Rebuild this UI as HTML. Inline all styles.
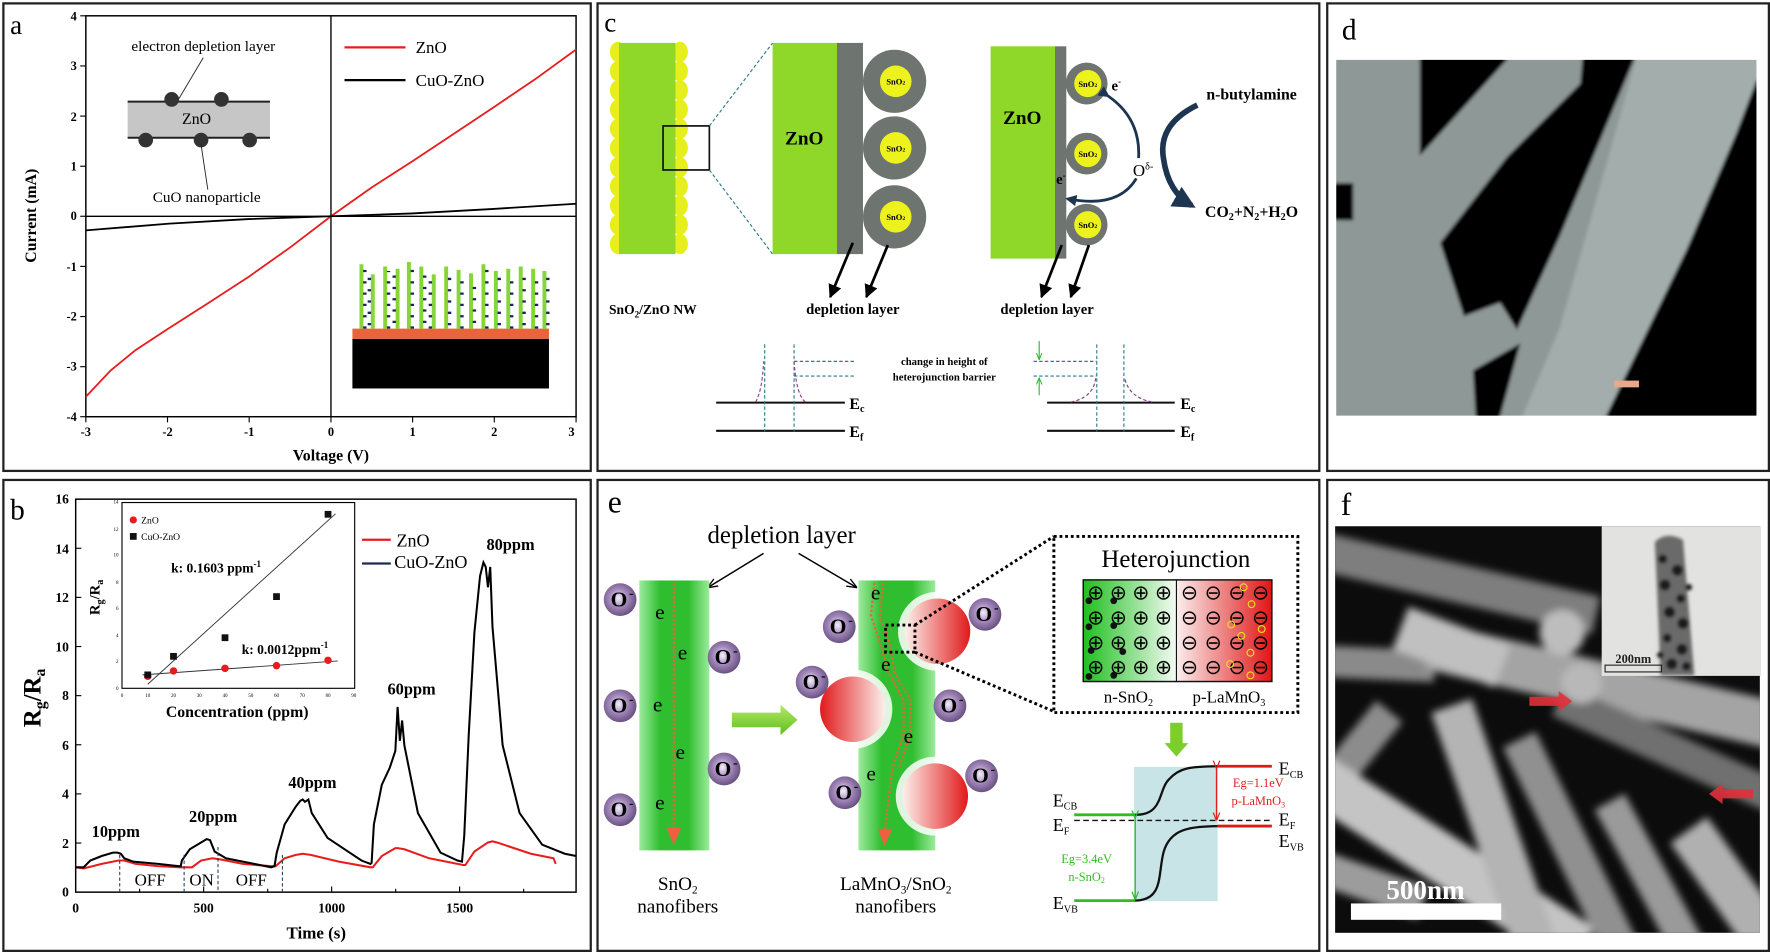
<!DOCTYPE html>
<html><head><meta charset="utf-8"><style>
html,body{margin:0;padding:0;background:#fff;width:1770px;height:952px;overflow:hidden}
svg{display:block}
text{font-family:"Liberation Serif",serif}
.b{font-weight:bold}
</style></head><body>
<svg width="1770" height="952" viewBox="0 0 1567 843" preserveAspectRatio="none" xmlns="http://www.w3.org/2000/svg">
<defs>
<linearGradient id="fib" x1="0" x2="1" y1="0" y2="0"><stop offset="0" stop-color="#9ceb9c"/><stop offset="0.3" stop-color="#2fbe2f"/><stop offset="0.7" stop-color="#2fbe2f"/><stop offset="1" stop-color="#9ceb9c"/></linearGradient>
<radialGradient id="ox" cx="0.45" cy="0.45" r="0.6"><stop offset="0" stop-color="#f4eef8"/><stop offset="0.45" stop-color="#a58bbd"/><stop offset="1" stop-color="#5f4878"/></radialGradient>
<linearGradient id="redR" x1="0" x2="1"><stop offset="0" stop-color="#fdf0ec"/><stop offset="1" stop-color="#e0191b"/></linearGradient>
<linearGradient id="redL" x1="0" x2="1"><stop offset="0" stop-color="#e0191b"/><stop offset="1" stop-color="#fdf0ec"/></linearGradient>
<linearGradient id="hetG" x1="0" x2="1"><stop offset="0" stop-color="#1fbf1f"/><stop offset="1" stop-color="#f4fbf4"/></linearGradient>
<linearGradient id="hetR" x1="0" x2="1"><stop offset="0" stop-color="#fbeeee"/><stop offset="1" stop-color="#e01515"/></linearGradient>
<linearGradient id="garr" x1="0" x2="0" y1="0" y2="1"><stop offset="0" stop-color="#b6e86a"/><stop offset="1" stop-color="#5cbf1a"/></linearGradient>
<filter id="bl" x="-10%" y="-10%" width="120%" height="120%"><feGaussianBlur stdDeviation="3.5"/></filter>
<filter id="bl2"><feGaussianBlur stdDeviation="1.5"/></filter>
<marker id="ah" viewBox="0 0 10 10" refX="9" refY="5" markerWidth="5" markerHeight="5" orient="auto"><path d="M0,0L10,5L0,10z" fill="#000"/></marker>
<marker id="ahs" viewBox="0 0 10 10" refX="9" refY="5" markerWidth="7" markerHeight="7" orient="auto"><path d="M0,1L10,5L0,9" fill="none" stroke="#000" stroke-width="1.3"/></marker>
<marker id="ahg" viewBox="0 0 10 10" refX="9" refY="5" markerWidth="6" markerHeight="6" orient="auto"><path d="M0,1L10,5L0,9" fill="none" stroke="#2db82d" stroke-width="1.5"/></marker>
<marker id="ahr" viewBox="0 0 10 10" refX="9" refY="5" markerWidth="6" markerHeight="6" orient="auto"><path d="M0,1L10,5L0,9" fill="none" stroke="#e02020" stroke-width="1.5"/></marker>
<marker id="ahb" viewBox="0 0 10 10" refX="8" refY="5" markerWidth="4" markerHeight="4" orient="auto"><path d="M0,0L10,5L0,10z" fill="#1e3550"/></marker>
<g id="oion"><circle r="14.5" fill="url(#ox)"/><text x="-1" y="6" font-size="19" font-weight="bold" text-anchor="middle">O</text><text x="8" y="-2" font-size="12" font-weight="bold">-</text></g>
</defs>

<g fill="none" stroke="#222" stroke-width="2">
<rect x="3" y="3" width="520" height="414"/>
<rect x="529" y="3" width="639" height="414"/>
<rect x="1175" y="3" width="391" height="414"/>
<rect x="3" y="425" width="520" height="417"/>
<rect x="529" y="425" width="639" height="417"/>
<rect x="1175" y="425" width="391" height="417"/>
</g>

<!-- ============ Panel a ============ -->
<text x="9" y="30" font-size="24">a</text>
<rect x="76" y="14" width="434" height="355" fill="none" stroke="#000" stroke-width="1.3"/>
<line x1="293" y1="14" x2="293" y2="369" stroke="#000" stroke-width="1.2"/>
<line x1="76" y1="191.5" x2="510" y2="191.5" stroke="#000" stroke-width="1.2"/>
<g stroke="#000" stroke-width="1">
<line x1="76" y1="14" x2="71" y2="14"/>
<line x1="76" y1="58.4" x2="71" y2="58.4"/><line x1="76" y1="102.8" x2="71" y2="102.8"/><line x1="76" y1="147.2" x2="71" y2="147.2"/><line x1="76" y1="191.5" x2="71" y2="191.5"/><line x1="76" y1="235.9" x2="71" y2="235.9"/><line x1="76" y1="280.3" x2="71" y2="280.3"/><line x1="76" y1="324.7" x2="71" y2="324.7"/><line x1="76" y1="369" x2="71" y2="369"/>
<line x1="76" y1="369" x2="76" y2="374"/><line x1="148.3" y1="369" x2="148.3" y2="374"/><line x1="220.6" y1="369" x2="220.6" y2="374"/><line x1="293" y1="369" x2="293" y2="374"/><line x1="365.3" y1="369" x2="365.3" y2="374"/><line x1="437.6" y1="369" x2="437.6" y2="374"/><line x1="510" y1="369" x2="510" y2="374"/>
</g>
<g font-size="11" font-weight="bold" text-anchor="end">
<text x="68" y="18">4</text><text x="68" y="62">3</text><text x="68" y="107">2</text><text x="68" y="151">1</text><text x="68" y="195">0</text><text x="68" y="240">-1</text><text x="68" y="284">-2</text><text x="68" y="328">-3</text><text x="68" y="373">-4</text>
</g>
<g font-size="11" font-weight="bold" text-anchor="middle">
<text x="76" y="386">-3</text><text x="148.3" y="386">-2</text><text x="220.6" y="386">-1</text><text x="293" y="386">0</text><text x="365.3" y="386">1</text><text x="437.6" y="386">2</text><text x="506" y="386">3</text>
</g>
<text x="293" y="408" font-size="14" font-weight="bold" text-anchor="middle">Voltage (V)</text>
<text transform="translate(32,191) rotate(-90)" font-size="14" font-weight="bold" text-anchor="middle">Current (mA)</text>
<polyline fill="none" stroke="#e81c1c" stroke-width="1.6" points="76,351.3 98,328 120,310 148.3,291.4 185,268 220.6,244.8 257,219 293,191.5 329,166 365.3,142.7 401,119 437.6,94.6 474,70 510,43.8"/>
<polyline fill="none" stroke="#000" stroke-width="1.6" points="76,204 150,198 220,194 293,191.5 365,189 437,185 510,180.4"/>
<line x1="305" y1="42" x2="359" y2="42" stroke="#e81c1c" stroke-width="2"/>
<text x="368" y="47" font-size="15" font-family="Liberation Sans,sans-serif">ZnO</text>
<line x1="305" y1="71" x2="359" y2="71" stroke="#000" stroke-width="2"/>
<text x="368" y="76" font-size="15" font-family="Liberation Sans,sans-serif">CuO-ZnO</text>
<rect x="113" y="90" width="126" height="32" fill="#c6c6c6"/>
<line x1="113" y1="90" x2="239" y2="90" stroke="#222" stroke-width="1.8"/>
<line x1="113" y1="122" x2="239" y2="122" stroke="#222" stroke-width="1.8"/>
<g fill="#333"><circle cx="152" cy="88" r="6.5"/><circle cx="196" cy="88" r="6.5"/><circle cx="129" cy="124" r="6.5"/><circle cx="178" cy="124" r="6.5"/><circle cx="221" cy="124" r="6.5"/></g>
<text x="174" y="110" font-size="14" text-anchor="middle">ZnO</text>
<text x="180" y="45" font-size="13.5" text-anchor="middle">electron depletion layer</text>
<line x1="180" y1="51" x2="158" y2="88" stroke="#222" stroke-width="0.8"/>
<text x="183" y="179" font-size="13.5" text-anchor="middle">CuO nanoparticle</text>
<line x1="178" y1="128" x2="184" y2="168" stroke="#222" stroke-width="0.8"/>
<rect x="312" y="300" width="174" height="44" fill="#000"/>
<rect x="312" y="291" width="174" height="9" fill="#e8643a"/>
<g stroke="#86d63a" stroke-width="3.5">
<line x1="320" y1="291" x2="320" y2="234"/><line x1="330" y1="291" x2="330" y2="243"/><line x1="341" y1="291" x2="341" y2="236"/><line x1="352" y1="291" x2="352" y2="238"/><line x1="362" y1="291" x2="362" y2="232"/><line x1="373" y1="291" x2="373" y2="236"/><line x1="384" y1="291" x2="384" y2="243"/><line x1="395" y1="291" x2="395" y2="236"/><line x1="406" y1="291" x2="406" y2="239"/><line x1="417" y1="291" x2="417" y2="242"/><line x1="428" y1="291" x2="428" y2="234"/><line x1="439" y1="291" x2="439" y2="240"/><line x1="450" y1="291" x2="450" y2="238"/><line x1="461" y1="291" x2="461" y2="236"/><line x1="472" y1="291" x2="472" y2="238"/><line x1="482" y1="291" x2="482" y2="240"/>
</g>
<g stroke="#20206a" stroke-width="3" stroke-dasharray="2 8">
<line x1="323" y1="291" x2="323" y2="236"/><line x1="327" y1="288" x2="327" y2="246"/><line x1="344" y1="291" x2="344" y2="240"/><line x1="349" y1="286" x2="349" y2="242"/><line x1="365" y1="291" x2="365" y2="236"/><line x1="376" y1="286" x2="376" y2="240"/><line x1="381" y1="291" x2="381" y2="246"/><line x1="398" y1="288" x2="398" y2="240"/><line x1="409" y1="291" x2="409" y2="242"/><line x1="420" y1="286" x2="420" y2="246"/><line x1="431" y1="291" x2="431" y2="238"/><line x1="442" y1="288" x2="442" y2="244"/><line x1="453" y1="291" x2="453" y2="242"/><line x1="464" y1="288" x2="464" y2="240"/><line x1="475" y1="291" x2="475" y2="242"/><line x1="485" y1="288" x2="485" y2="244"/>
</g>

<!-- ============ Panel b ============ -->
<text x="9" y="460" font-size="26">b</text>
<rect x="67" y="442" width="443" height="348" fill="none" stroke="#000" stroke-width="1.3"/>
<g stroke="#000" stroke-width="1">
<line x1="67" y1="442" x2="72" y2="442"/><line x1="67" y1="485.5" x2="72" y2="485.5"/><line x1="67" y1="529" x2="72" y2="529"/><line x1="67" y1="572.5" x2="72" y2="572.5"/><line x1="67" y1="616" x2="72" y2="616"/><line x1="67" y1="659.5" x2="72" y2="659.5"/><line x1="67" y1="703" x2="72" y2="703"/><line x1="67" y1="746.5" x2="72" y2="746.5"/>
<line x1="180.3" y1="790" x2="180.3" y2="785"/><line x1="293.6" y1="790" x2="293.6" y2="785"/><line x1="406.9" y1="790" x2="406.9" y2="785"/><line x1="123.6" y1="790" x2="123.6" y2="787"/><line x1="237" y1="790" x2="237" y2="787"/><line x1="350.3" y1="790" x2="350.3" y2="787"/><line x1="463.6" y1="790" x2="463.6" y2="787"/>
</g>
<g font-size="12" font-weight="bold" text-anchor="end">
<text x="61" y="446">16</text><text x="61" y="490">14</text><text x="61" y="533">12</text><text x="61" y="577">10</text><text x="61" y="620">8</text><text x="61" y="664">6</text><text x="61" y="707">4</text><text x="61" y="751">2</text><text x="61" y="794">0</text>
</g>
<g font-size="12" font-weight="bold" text-anchor="middle">
<text x="67" y="808">0</text><text x="180.3" y="808">500</text><text x="293.6" y="808">1000</text><text x="406.9" y="808">1500</text>
</g>
<text x="280" y="831" font-size="15" font-weight="bold" text-anchor="middle">Time (s)</text>
<text transform="translate(36,618) rotate(-90)" font-size="22" font-weight="bold" text-anchor="middle">R<tspan font-size="14" dy="4">g</tspan><tspan dy="-4">/R</tspan><tspan font-size="14" dy="4">a</tspan></text>
<polyline fill="none" stroke="#e81c1c" stroke-width="1.8" points="67,768 74,769 90,765 105,762 110,762 120,765 140,767 160,768 170,768 178,762 188,760 195,761 215,765 240,767 244,767 252,760 262,757 268,756 275,757 300,763 328,768 330,768 338,758 350,751 352,751 358,752 380,760 410,766 412,766 420,754 432,746 436,745 440,746 470,756 490,760 492,765"/>
<polyline fill="none" stroke="#000" stroke-width="1.8" points="67,768 74,768 80,762 90,758 100,755 104,755 107,756 110,760 118,763 140,765 158,767 160,767 161,762 168,752 178,746 183,743 186,744 190,754 200,760 225,765 240,768 243,767 245,755 252,730 262,714 266,709 268,708 270,710 273,708 276,720 290,742 320,762 328,765 329,764 331,730 338,695 345,680 350,665 352,626 354,656 356,638 358,660 370,720 390,755 405,762 409,763 411,740 415,650 420,560 425,510 428,498 430,502 432,520 434,502 436,555 445,660 460,720 480,748 500,756 510,758"/>
<g stroke="#1e3550" stroke-width="0.9" stroke-dasharray="3 2">
<line x1="106" y1="757" x2="106" y2="790"/><line x1="163" y1="757" x2="163" y2="790"/><line x1="193" y1="750" x2="193" y2="790"/><line x1="250" y1="757" x2="250" y2="790"/>
</g>
<g font-size="15" text-anchor="middle">
<text x="133" y="784">OFF</text><text x="178.5" y="784">ON</text><text x="222.5" y="784">OFF</text>
</g>
<g font-size="14.5" font-weight="bold" text-anchor="middle">
<text x="102.5" y="741">10ppm</text><text x="188.7" y="728">20ppm</text><text x="276.6" y="698">40ppm</text><text x="364.4" y="615">60ppm</text><text x="452" y="487">80ppm</text>
</g>
<line x1="320.5" y1="478" x2="346" y2="478" stroke="#e81c1c" stroke-width="2"/>
<text x="351" y="484" font-size="16" font-family="Liberation Sans,sans-serif">ZnO</text>
<line x1="320.5" y1="499" x2="346" y2="499" stroke="#1e2a50" stroke-width="2"/>
<text x="349" y="503" font-size="16" font-family="Liberation Sans,sans-serif">CuO-ZnO</text>
<rect x="108" y="445" width="206" height="164.5" fill="#fff" stroke="#000" stroke-width="1"/>
<g font-size="4.5" text-anchor="middle">
<text x="108" y="617">0</text><text x="130.8" y="617">10</text><text x="153.6" y="617">20</text><text x="176.4" y="617">30</text><text x="199.2" y="617">40</text><text x="222" y="617">50</text><text x="244.8" y="617">60</text><text x="267.6" y="617">70</text><text x="290.4" y="617">80</text><text x="313.2" y="617">90</text>
</g>
<g font-size="4.5" text-anchor="end">
<text x="105" y="611">0</text><text x="105" y="587">2</text><text x="105" y="564">4</text><text x="105" y="540">6</text><text x="105" y="517">8</text><text x="105" y="493">10</text><text x="105" y="470">12</text><text x="105" y="446">14</text>
</g>
<text x="210" y="635" font-size="14" font-weight="bold" text-anchor="middle">Concentration (ppm)</text>
<text transform="translate(88,529) rotate(-90)" font-size="13" font-weight="bold" text-anchor="middle">R<tspan font-size="9" dy="3">g</tspan><tspan dy="-3">/R</tspan><tspan font-size="9" dy="3">a</tspan></text>
<line x1="130.8" y1="605.9" x2="297" y2="455" stroke="#333" stroke-width="0.8"/>
<line x1="126.2" y1="597.6" x2="299" y2="585.3" stroke="#333" stroke-width="0.8"/>
<g fill="#e81c1c"><circle cx="130.8" cy="598.8" r="3.3"/><circle cx="153.6" cy="594.1" r="3.3"/><circle cx="199.2" cy="591.8" r="3.3"/><circle cx="244.8" cy="589.4" r="3.3"/><circle cx="290.4" cy="584.7" r="3.3"/></g>
<g fill="#111"><rect x="127.8" y="594.6" width="6" height="6"/><rect x="150.6" y="578.2" width="6" height="6"/><rect x="196.2" y="561.7" width="6" height="6"/><rect x="241.8" y="525.3" width="6" height="6"/><rect x="287.4" y="452.4" width="6" height="6"/></g>
<circle cx="118" cy="460.4" r="3.2" fill="#e81c1c"/><text x="125" y="463.5" font-size="8.5" font-family="Liberation Sans,sans-serif">ZnO</text>
<rect x="115" y="472" width="6" height="6" fill="#111"/><text x="125" y="478" font-size="8.5" font-family="Liberation Sans,sans-serif">CuO-ZnO</text>
<text x="151.5" y="507" font-size="12" font-weight="bold">k: 0.1603 ppm<tspan font-size="8" dy="-5">-1</tspan></text>
<text x="214" y="579" font-size="12" font-weight="bold">k: 0.0012ppm<tspan font-size="8" dy="-5">-1</tspan></text>

<!-- ============ Panel c ============ -->
<text x="535" y="28" font-size="24">c</text>
<g fill="#e6ee1c">
<ellipse cx="547" cy="46" rx="7" ry="9"/><ellipse cx="547" cy="63" rx="7" ry="9"/><ellipse cx="547" cy="80" rx="7" ry="9"/><ellipse cx="547" cy="97" rx="7" ry="9"/><ellipse cx="547" cy="114" rx="7" ry="9"/><ellipse cx="547" cy="131" rx="7" ry="9"/><ellipse cx="547" cy="148" rx="7" ry="9"/><ellipse cx="547" cy="165" rx="7" ry="9"/><ellipse cx="547" cy="182" rx="7" ry="9"/><ellipse cx="547" cy="199" rx="7" ry="9"/><ellipse cx="547" cy="216" rx="7" ry="9"/>
<ellipse cx="602" cy="46" rx="7" ry="9"/><ellipse cx="602" cy="63" rx="7" ry="9"/><ellipse cx="602" cy="80" rx="7" ry="9"/><ellipse cx="602" cy="97" rx="7" ry="9"/><ellipse cx="602" cy="114" rx="7" ry="9"/><ellipse cx="602" cy="131" rx="7" ry="9"/><ellipse cx="602" cy="148" rx="7" ry="9"/><ellipse cx="602" cy="165" rx="7" ry="9"/><ellipse cx="602" cy="182" rx="7" ry="9"/><ellipse cx="602" cy="199" rx="7" ry="9"/><ellipse cx="602" cy="216" rx="7" ry="9"/>
</g>
<rect x="548" y="38" width="50" height="187" fill="#8fd82a"/>
<rect x="587" y="111.5" width="41" height="39" fill="none" stroke="#111" stroke-width="1.5"/>
<g stroke="#2a7a8a" stroke-width="1" stroke-dasharray="3 2"><line x1="628" y1="111.5" x2="684" y2="38"/><line x1="628" y1="150.5" x2="684" y2="225"/></g>
<text x="578" y="278" font-size="12" font-weight="bold" text-anchor="middle">SnO<tspan font-size="8" dy="3">2</tspan><tspan dy="-3">/ZnO NW</tspan></text>
<rect x="684" y="38" width="57" height="187" fill="#8fd82a"/>
<rect x="741" y="38" width="23" height="187" fill="#6e7470"/>
<g fill="#6e7470"><circle cx="792" cy="72" r="28"/><circle cx="792" cy="131" r="28"/><circle cx="792" cy="192" r="28"/></g>
<g fill="#eef21c"><circle cx="793" cy="72" r="14"/><circle cx="793" cy="131" r="14"/><circle cx="793" cy="192" r="14"/></g>
<g font-size="7.5" font-weight="bold" text-anchor="middle"><text x="793" y="75">SnO<tspan font-size="5">2</tspan></text><text x="793" y="134">SnO<tspan font-size="5">2</tspan></text><text x="793" y="195">SnO<tspan font-size="5">2</tspan></text></g>
<text x="712" y="128" font-size="17" font-weight="bold" text-anchor="middle">ZnO</text>
<rect x="877" y="41" width="57" height="188" fill="#8fd82a"/>
<rect x="934" y="41" width="10" height="188" fill="#6e7470"/>
<g fill="#6e7470"><circle cx="962" cy="74" r="18.5"/><circle cx="962" cy="136" r="18.5"/><circle cx="962" cy="199" r="18.5"/></g>
<g fill="#eef21c"><circle cx="963" cy="74" r="12"/><circle cx="963" cy="136" r="12"/><circle cx="963" cy="199" r="12"/></g>
<g font-size="7.5" font-weight="bold" text-anchor="middle"><text x="963" y="77">SnO<tspan font-size="5">2</tspan></text><text x="963" y="139">SnO<tspan font-size="5">2</tspan></text><text x="963" y="202">SnO<tspan font-size="5">2</tspan></text></g>
<text x="905" y="110" font-size="17" font-weight="bold" text-anchor="middle">ZnO</text>
<text x="984" y="80" font-size="13" font-weight="bold">e<tspan font-size="8" dy="-5">-</tspan></text>
<text x="935" y="163" font-size="13" font-weight="bold">e<tspan font-size="8" dy="-5">-</tspan></text>
<text x="1003" y="156" font-size="15">O<tspan font-size="9" dy="-6">δ-</tspan></text>
<path d="M981,85 Q1010,105 1008,140" fill="none" stroke="#1e3550" stroke-width="2.5" marker-start="url(#ahb)"/>
<path d="M1006,158 Q990,185 945,176" fill="none" stroke="#1e3550" stroke-width="2.5" marker-end="url(#ahb)"/>
<path d="M1060,93 Q1025,110 1030,140 Q1034,170 1055,182" fill="none" stroke="#1e3550" stroke-width="5" marker-end="url(#ahb)"/>
<text x="1108" y="88" font-size="14" font-weight="bold" text-anchor="middle">n-butylamine</text>
<text x="1108" y="192" font-size="14" font-weight="bold" text-anchor="middle">CO<tspan font-size="9" dy="3">2</tspan><tspan dy="-3">+N</tspan><tspan font-size="9" dy="3">2</tspan><tspan dy="-3">+H</tspan><tspan font-size="9" dy="3">2</tspan><tspan dy="-3">O</tspan></text>
<g stroke="#000" stroke-width="2.4" marker-end="url(#ah)">
<line x1="755" y1="215" x2="735" y2="263"/><line x1="786" y1="217" x2="767" y2="263"/>
<line x1="940" y1="217" x2="922" y2="263"/><line x1="964" y1="217" x2="948" y2="263"/>
</g>
<text x="755" y="278" font-size="13" font-weight="bold" text-anchor="middle">depletion layer</text>
<text x="927" y="278" font-size="13" font-weight="bold" text-anchor="middle">depletion layer</text>
<g stroke="#111" stroke-width="1.8"><line x1="634" y1="356.5" x2="748" y2="356.5"/><line x1="634" y1="381.5" x2="748" y2="381.5"/><line x1="927" y1="356.5" x2="1040" y2="356.5"/><line x1="927" y1="381.5" x2="1040" y2="381.5"/></g>
<g stroke="#2a7a8a" stroke-width="1" stroke-dasharray="3 2" fill="none">
<line x1="677" y1="305" x2="677" y2="382"/><line x1="703" y1="305" x2="703" y2="382"/><line x1="971" y1="305" x2="971" y2="382"/><line x1="995" y1="305" x2="995" y2="382"/>
<line x1="703" y1="320" x2="758" y2="320"/><line x1="703" y1="333" x2="758" y2="333"/><line x1="915" y1="320" x2="971" y2="320"/><line x1="915" y1="333" x2="971" y2="333"/>
</g>
<g stroke="#8a3a8a" stroke-width="1" stroke-dasharray="3 2" fill="none">
<path d="M669,356 Q675,345 676,320"/><path d="M703,320 Q705,350 713,356"/><path d="M948,356 Q968,352 970,335"/><path d="M996,336 Q1000,352 1020,356"/>
</g>
<text x="836" y="323" font-size="9.5" font-weight="bold" text-anchor="middle">change in height of</text>
<text x="836" y="337" font-size="9.5" font-weight="bold" text-anchor="middle">heterojunction  barrier</text>
<g stroke="#2db82d" stroke-width="1" marker-end="url(#ahg)"><line x1="920" y1="302" x2="920" y2="318"/><line x1="920" y1="350" x2="920" y2="335"/></g>
<g font-size="14" font-weight="bold"><text x="752" y="362">E<tspan font-size="9" dy="3">c</tspan></text><text x="752" y="387">E<tspan font-size="9" dy="3">f</tspan></text><text x="1045" y="362">E<tspan font-size="9" dy="3">c</tspan></text><text x="1045" y="387">E<tspan font-size="9" dy="3">f</tspan></text></g>

<!-- ============ Panel d ============ -->
<text x="1188" y="35" font-size="26">d</text>
<svg x="1183" y="53" width="372" height="315" viewBox="1183 53 372 315">
<g filter="url(#bl2)">
<rect x="1170" y="40" width="400" height="340" fill="#8e9896"/>
<g fill="#050505">
<polygon points="1257,40 1334,40 1334,53 1257,138"/>
<polygon points="1402,40 1452,40 1381,209 1343,292 1328,268 1296,280 1275,215 1334,139 1399,74"/>
<polygon points="1570,71 1570,380 1416,380 1493,221 1537,118 1555,71"/>
<polygon points="1304,328 1346,304 1325,380 1307,380"/>
<polygon points="1170,162 1198,162 1198,195 1170,195"/>
</g>
<polygon points="1452,40 1570,40 1555,71 1537,118 1493,221 1416,380 1343,380 1381,290" fill="#a3aeac"/>
</g>
</svg>
<rect x="1429" y="337" width="22" height="6" fill="#e9a88a"/>

<!-- ============ Panel e ============ -->
<text x="538" y="454" font-size="28">e</text>
<text x="692" y="481" font-size="22" text-anchor="middle">depletion layer</text>
<g stroke="#000" stroke-width="1.3" marker-end="url(#ahs)"><line x1="676" y1="490" x2="627" y2="520"/><line x1="707" y1="490" x2="758" y2="520"/></g>
<rect x="566" y="514" width="62" height="239" fill="url(#fib)"/>
<line x1="596.5" y1="516" x2="596.5" y2="735" stroke="#f06040" stroke-width="2" stroke-dasharray="2 2"/>
<polygon points="590,733 603,733 596.5,748" fill="#f06040"/>
<g font-size="19"><text x="580" y="548">e</text><text x="600" y="584">e</text><text x="578" y="630">e</text><text x="598" y="672">e</text><text x="580" y="717">e</text></g>
<use href="#oion" x="549" y="531"/><use href="#oion" x="641" y="582"/><use href="#oion" x="549" y="625"/><use href="#oion" x="641" y="681"/><use href="#oion" x="549" y="717"/>
<polygon points="648,631 691,631 691,624 706,637.5 691,651 691,644 648,644" fill="url(#garr)"/>
<rect x="760" y="514" width="68" height="239" fill="url(#fib)"/>
<circle cx="830" cy="559" r="35" fill="#fff" opacity="0.85"/>
<circle cx="755" cy="628" r="35" fill="#fff" opacity="0.85"/>
<circle cx="828" cy="705" r="35" fill="#fff" opacity="0.85"/>
<circle cx="830" cy="559" r="29" fill="url(#redR)"/>
<circle cx="755" cy="628" r="29" fill="url(#redL)"/>
<circle cx="828" cy="705" r="29" fill="url(#redR)"/>
<polyline points="774,516 771,545 780,572 786,595 800,620 800,650 790,680 783,738" fill="none" stroke="#f06040" stroke-width="2" stroke-dasharray="2 2"/>
<polyline points="782,516 779,545 788,572 792,595 806,620 806,650 796,680" fill="none" stroke="#f06040" stroke-width="2" stroke-dasharray="2 2"/>
<polygon points="777,734 790,734 783,749" fill="#f06040"/>
<g font-size="19"><text x="771" y="531">e</text><text x="780" y="594">e</text><text x="800" y="658">e</text><text x="767" y="691">e</text></g>
<use href="#oion" x="743" y="555"/><use href="#oion" x="719" y="604"/><use href="#oion" x="841" y="625"/><use href="#oion" x="872" y="544"/><use href="#oion" x="748" y="702"/><use href="#oion" x="869" y="687"/>
<g fill="none" stroke="#000" stroke-width="2.6" stroke-dasharray="2.5 2.5">
<rect x="784" y="553.5" width="26" height="24"/>
<line x1="810" y1="553.5" x2="933" y2="475"/><line x1="810" y1="577.5" x2="933" y2="630"/>
<rect x="933" y="475" width="216" height="156"/>
</g>
<text x="1041" y="502" font-size="22" text-anchor="middle">Heterojunction</text>
<rect x="959" y="513.5" width="82.5" height="90" fill="url(#hetG)"/>
<rect x="1041.5" y="513.5" width="84.5" height="90" fill="url(#hetR)"/>
<rect x="959" y="513.5" width="167" height="90" fill="none" stroke="#111" stroke-width="1.3"/>
<line x1="1041.5" y1="513.5" x2="1041.5" y2="603.5" stroke="#111" stroke-width="1"/>
<g font-size="18" font-family="DejaVu Sans,sans-serif" text-anchor="middle">
<text x="970" y="531">⊕</text><text x="990" y="531">⊕</text><text x="1010" y="531">⊕</text><text x="1030" y="531">⊕</text>
<text x="970" y="553">⊕</text><text x="990" y="553">⊕</text><text x="1010" y="553">⊕</text><text x="1030" y="553">⊕</text>
<text x="970" y="575">⊕</text><text x="990" y="575">⊕</text><text x="1010" y="575">⊕</text><text x="1030" y="575">⊕</text>
<text x="970" y="597">⊕</text><text x="990" y="597">⊕</text><text x="1010" y="597">⊕</text><text x="1030" y="597">⊕</text>
<text x="1053" y="531">⊖</text><text x="1074" y="531">⊖</text><text x="1095" y="531">⊖</text><text x="1116" y="531">⊖</text>
<text x="1053" y="553">⊖</text><text x="1074" y="553">⊖</text><text x="1095" y="553">⊖</text><text x="1116" y="553">⊖</text>
<text x="1053" y="575">⊖</text><text x="1074" y="575">⊖</text><text x="1095" y="575">⊖</text><text x="1116" y="575">⊖</text>
<text x="1053" y="597">⊖</text><text x="1074" y="597">⊖</text><text x="1095" y="597">⊖</text><text x="1116" y="597">⊖</text>
</g>
<g fill="#111"><circle cx="964" cy="532" r="3"/><circle cx="986" cy="532" r="3"/><circle cx="964" cy="555" r="3"/><circle cx="986" cy="554" r="3"/><circle cx="966" cy="576" r="3"/><circle cx="994" cy="577" r="3"/><circle cx="964" cy="599" r="3"/><circle cx="986" cy="598" r="3"/></g>
<g fill="none" stroke="#e8e020" stroke-width="1"><circle cx="1101" cy="520" r="3"/><circle cx="1108" cy="535" r="3"/><circle cx="1090" cy="553" r="3"/><circle cx="1117" cy="557" r="3"/><circle cx="1099" cy="563" r="3"/><circle cx="1107" cy="578" r="3"/><circle cx="1089" cy="588" r="3"/><circle cx="1107" cy="598" r="3"/></g>
<text x="999" y="622" font-size="15" text-anchor="middle">n-SnO<tspan font-size="9" dy="3">2</tspan></text>
<text x="1088" y="622" font-size="15" text-anchor="middle">p-LaMnO<tspan font-size="9" dy="3">3</tspan></text>
<polygon points="1036,640 1047,640 1047,658 1052,658 1041.5,670 1031,658 1036,658" fill="#7ccf2a"/>
<rect x="1004" y="679" width="74" height="119" fill="#c8e4e6"/>
<line x1="951" y1="721.5" x2="1005" y2="721.5" stroke="#33bb22" stroke-width="2.5"/>
<line x1="951" y1="797.5" x2="1005" y2="797.5" stroke="#33bb22" stroke-width="2.5"/>
<line x1="1078" y1="678.5" x2="1126" y2="678.5" stroke="#e01818" stroke-width="2.5"/>
<line x1="1078" y1="731.5" x2="1126" y2="731.5" stroke="#e01818" stroke-width="2.5"/>
<line x1="951" y1="726.5" x2="1126" y2="726.5" stroke="#111" stroke-width="1.3" stroke-dasharray="5 3"/>
<path d="M1005,721.5 C1030,722 1025,700 1035,690 C1045,679 1055,679 1078,678.5" fill="none" stroke="#111" stroke-width="2"/>
<path d="M1005,797.5 C1030,797 1025,775 1030,755 C1036,733 1055,732 1078,731.5" fill="none" stroke="#111" stroke-width="2"/>
<line x1="1005" y1="724" x2="1005" y2="796" stroke="#33bb22" stroke-width="1.2" marker-end="url(#ahg)" marker-start="url(#ahg)"/>
<line x1="1077" y1="680" x2="1077" y2="726" stroke="#e02020" stroke-width="1.2" marker-end="url(#ahr)" marker-start="url(#ahr)"/>
<text x="1114" y="697" font-size="11" fill="#e02020" text-anchor="middle">Eg=1.1eV</text>
<text x="1114" y="713" font-size="11" fill="#e02020" text-anchor="middle">p-LaMnO<tspan font-size="7" dy="2">3</tspan></text>
<text x="962" y="764" font-size="11" fill="#33bb22" text-anchor="middle">Eg=3.4eV</text>
<text x="962" y="780" font-size="11" fill="#33bb22" text-anchor="middle">n-SnO<tspan font-size="7" dy="2">2</tspan></text>
<g font-size="16"><text x="932" y="714">E<tspan font-size="9" dy="3">CB</tspan></text><text x="932" y="736">E<tspan font-size="9" dy="3">F</tspan></text><text x="932" y="805">E<tspan font-size="9" dy="3">VB</tspan></text>
<text x="1132" y="686">E<tspan font-size="9" dy="3">CB</tspan></text><text x="1132" y="731">E<tspan font-size="9" dy="3">F</tspan></text><text x="1132" y="750">E<tspan font-size="9" dy="3">VB</tspan></text></g>
<text x="600" y="788" font-size="17" text-anchor="middle">SnO<tspan font-size="10" dy="3">2</tspan></text>
<text x="600" y="808" font-size="17" text-anchor="middle">nanofibers</text>
<text x="793" y="788" font-size="17" text-anchor="middle">LaMnO<tspan font-size="10" dy="3">3</tspan><tspan dy="-3">/SnO</tspan><tspan font-size="10" dy="3">2</tspan></text>
<text x="793" y="808" font-size="17" text-anchor="middle">nanofibers</text>

<!-- ============ Panel f ============ -->
<text x="1187" y="456" font-size="28">f</text>
<rect x="1182" y="466" width="376" height="360" fill="#0c0c0c"/>
<svg x="1182" y="466" width="376" height="360" viewBox="1182 466 376 360">
<g stroke-linecap="butt" filter="url(#bl)">
<line x1="1160" y1="486" x2="1413" y2="545" stroke="#7e7e7e" stroke-width="34"/>
<line x1="1160" y1="585" x2="1270" y2="590" stroke="#8a8a8a" stroke-width="28"/>
<line x1="1266" y1="572" x2="1570" y2="642" stroke="#a4a4a4" stroke-width="42"/>
<line x1="1240" y1="556" x2="1330" y2="590" stroke="#c0c0c0" stroke-width="40"/>
<line x1="1230" y1="630" x2="1165" y2="710" stroke="#8c8c8c" stroke-width="30"/>
<line x1="1160" y1="685" x2="1400" y2="840" stroke="#c4c4c4" stroke-width="44"/>
<line x1="1285" y1="625" x2="1360" y2="840" stroke="#b4b4b4" stroke-width="38"/>
<line x1="1345" y1="655" x2="1435" y2="840" stroke="#909090" stroke-width="32"/>
<line x1="1425" y1="710" x2="1495" y2="840" stroke="#9a9a9a" stroke-width="30"/>
<line x1="1495" y1="735" x2="1570" y2="840" stroke="#b0b0b0" stroke-width="40"/>
<line x1="1380" y1="620" x2="1570" y2="705" stroke="#707070" stroke-width="30"/>
<line x1="1160" y1="765" x2="1260" y2="800" stroke="#9c9c9c" stroke-width="30"/>
<circle cx="1383" cy="560" r="20" fill="#bdbdbd"/>
<circle cx="1400" cy="605" r="18" fill="#b8b8b8"/>
</g>
</svg>
<rect x="1418" y="466" width="141" height="132.5" fill="#e2e2e0"/>
<g fill="#1a1a1a" filter="url(#bl2)">
<path d="M1465,480 Q1475,470 1490,478 L1500,598 L1470,598 Q1468,540 1465,480z" fill="#6a6a6a"/>
<circle cx="1472" cy="495" r="4"/><circle cx="1485" cy="505" r="5"/><circle cx="1474" cy="518" r="5"/><circle cx="1488" cy="530" r="4"/><circle cx="1478" cy="542" r="5"/><circle cx="1490" cy="552" r="5"/><circle cx="1476" cy="565" r="4"/><circle cx="1489" cy="575" r="5"/><circle cx="1480" cy="588" r="5"/><circle cx="1493" cy="590" r="4"/><circle cx="1470" cy="580" r="3"/><circle cx="1495" cy="520" r="3"/>
</g>
<rect x="1421" y="589" width="50" height="6" fill="none" stroke="#222" stroke-width="1"/>
<text x="1446" y="587" font-size="11" font-weight="bold" text-anchor="middle" fill="#222">200nm</text>
<g fill="#e0303a" opacity="0.9">
<polygon points="1354,617 1380,617 1380,612 1392,621 1380,630 1380,625 1354,625"/>
<polygon points="1552,699 1525,699 1525,694 1513,703 1525,712 1525,707 1552,707"/>
</g>
<rect x="1196" y="800" width="133" height="14.5" fill="#fff"/>
<text x="1262" y="796" font-size="24" font-weight="bold" fill="#fff" text-anchor="middle">500nm</text>
</svg>
</body></html>
